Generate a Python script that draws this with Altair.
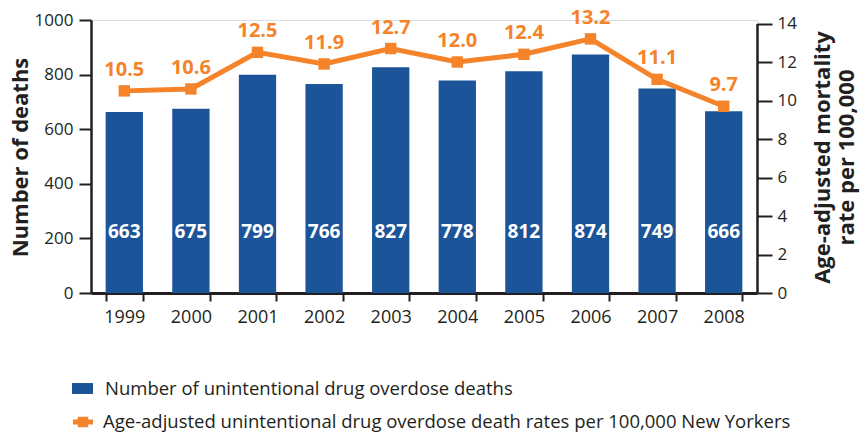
import altair as alt
import pandas as pd

years = ["1999", "2000", "2001", "2002", "2003", "2004", "2005", "2006", "2007", "2008"]
deaths = [663, 675, 799, 766, 827, 778, 812, 874, 749, 666]
rates = [10.5, 10.6, 12.5, 11.9, 12.7, 12.0, 12.4, 13.2, 11.1, 9.7]

BAR_NAME = "Number of unintentional drug overdose deaths"
RATE_NAME = "Age-adjusted unintentional drug overdose death rates per 100,000 New Yorkers"

BLUE = "#1C5499"
ORANGE = "#F5832A"
INK = "#231F20"
FONT = "Open Sans"

PLOT_W = 666
PLOT_H = 273

df = pd.DataFrame({
    "year": years,
    "deaths": deaths,
    "rate": rates,
    "bar_series": BAR_NAME,
    "rate_series": RATE_NAME,
})

x_axis = alt.Axis(
    title=None, labelAngle=0, tickBand="extent", labelFontSize=18,
    labelPadding=7, tickSize=8, tickWidth=2, tickColor=INK,
    domainColor=INK, domainWidth=3, labelColor=INK, labelFont=FONT,
)
x_enc = alt.X(
    "year:N", sort=years,
    scale=alt.Scale(paddingInner=0.44, paddingOuter=0.22),
    axis=x_axis,
)

left_scale = alt.Scale(domain=[0, 1000])
left_axis = alt.Axis(
    values=[0, 200, 400, 600, 800, 1000], format="d", title="Number of deaths",
    titleFontSize=22, titleFontWeight="bold", titleFont=FONT, titleColor=INK,
    titleAngle=270, titleBaseline="alphabetic", titleAlign="center",
    titleX=-64, titleY=137,
    labelFontSize=17, labelFont=FONT, labelColor=INK,
    tickSize=12, tickWidth=2, tickColor=INK, domainColor=INK, domainWidth=2.5,
    grid=False, labelPadding=6, labelOverlap=False,
)

bars = alt.Chart(df).mark_bar().encode(
    x=x_enc,
    y=alt.Y("deaths:Q", scale=left_scale, axis=left_axis),
    fill=alt.Fill(
        "bar_series:N",
        scale=alt.Scale(domain=[BAR_NAME], range=[BLUE]),
        legend=alt.Legend(
            title=None, orient="none", legendX=-19, legendY=358, padding=0,
            symbolType="M-1,-0.52H1V0.52H-1Z", symbolSize=441,
            symbolStrokeWidth=0, labelFontSize=18.5, labelFont=FONT,
            labelColor=INK, labelOffset=12, labelLimit=0,
        ),
    ),
)

# white count labels sit low inside each bar
bar_text = alt.Chart(df).mark_text(
    color="white", fontSize=19, fontWeight="bold", font=FONT, baseline="middle"
).encode(
    x=alt.X("year:N", sort=years, axis=x_axis),
    y=alt.datum(223, scale=left_scale, axis=left_axis),
    text="deaths:Q",
)

left_layer = alt.layer(bars, bar_text)

# the rate axis tops out a few pixels below the count axis
right_scale = alt.Scale(domain=[0, 14], range=[PLOT_H, 3.5])
right_axis = alt.Axis(
    orient="right", values=list(range(0, 15, 2)), format="d",
    title=["Age-adjusted mortality", "rate per 100,000"],
    titleFontSize=22, titleFontWeight="bold", titleFont=FONT, titleColor=INK,
    titleAngle=270, titleBaseline="alphabetic", titleAlign="center",
    titleX=72, titleY=137, titleLineHeight=24,
    labelFontSize=17, labelFont=FONT, labelColor=INK,
    tickSize=15, tickWidth=2, tickColor=INK,
    domainColor=INK, domainWidth=2.5, grid=False, labelPadding=5,
    labelOverlap=False,
)
right_y = alt.Y("rate:Q", scale=right_scale, axis=right_axis)

rate_line = alt.Chart(df).mark_line(color=ORANGE, strokeWidth=5).encode(
    x=alt.X("year:N", sort=years, axis=x_axis),
    y=right_y,
)

rate_points = alt.Chart(df).mark_square(size=130, opacity=1, filled=True).encode(
    x=alt.X("year:N", sort=years, axis=x_axis),
    y=right_y,
    fill=alt.Fill(
        "rate_series:N",
        scale=alt.Scale(domain=[RATE_NAME], range=[ORANGE]),
        legend=alt.Legend(
            title=None, orient="none", legendX=-18, legendY=392, padding=0,
            symbolType="M-1,-0.25H1V0.25H-1Z M-0.52,-0.52H0.52V0.52H-0.52Z",
            symbolSize=400, symbolStrokeWidth=0, labelFontSize=18.5,
            labelFont=FONT, labelColor=INK, labelOffset=10, labelLimit=0,
        ),
    ),
)

rate_text = alt.Chart(df).mark_text(
    color=ORANGE, fontSize=20, fontWeight="bold", font=FONT, dy=-21
).encode(
    x=alt.X("year:N", sort=years, axis=x_axis),
    y=right_y,
    text=alt.Text("rate:Q", format=".1f"),
)

right_layer = alt.layer(rate_line, rate_points, rate_text)

chart = alt.layer(left_layer, right_layer).resolve_scale(
    y="independent", fill="independent"
).resolve_legend(fill="independent").properties(
    width=PLOT_W,
    height=PLOT_H,
    autosize=alt.AutoSizeParams(type="none"),
    padding={"left": 91, "top": 20, "right": 109, "bottom": 139},
).configure_view(stroke=None).configure(background="white")

chart.save("out.html", embed_options={"renderer": "svg", "actions": False})
